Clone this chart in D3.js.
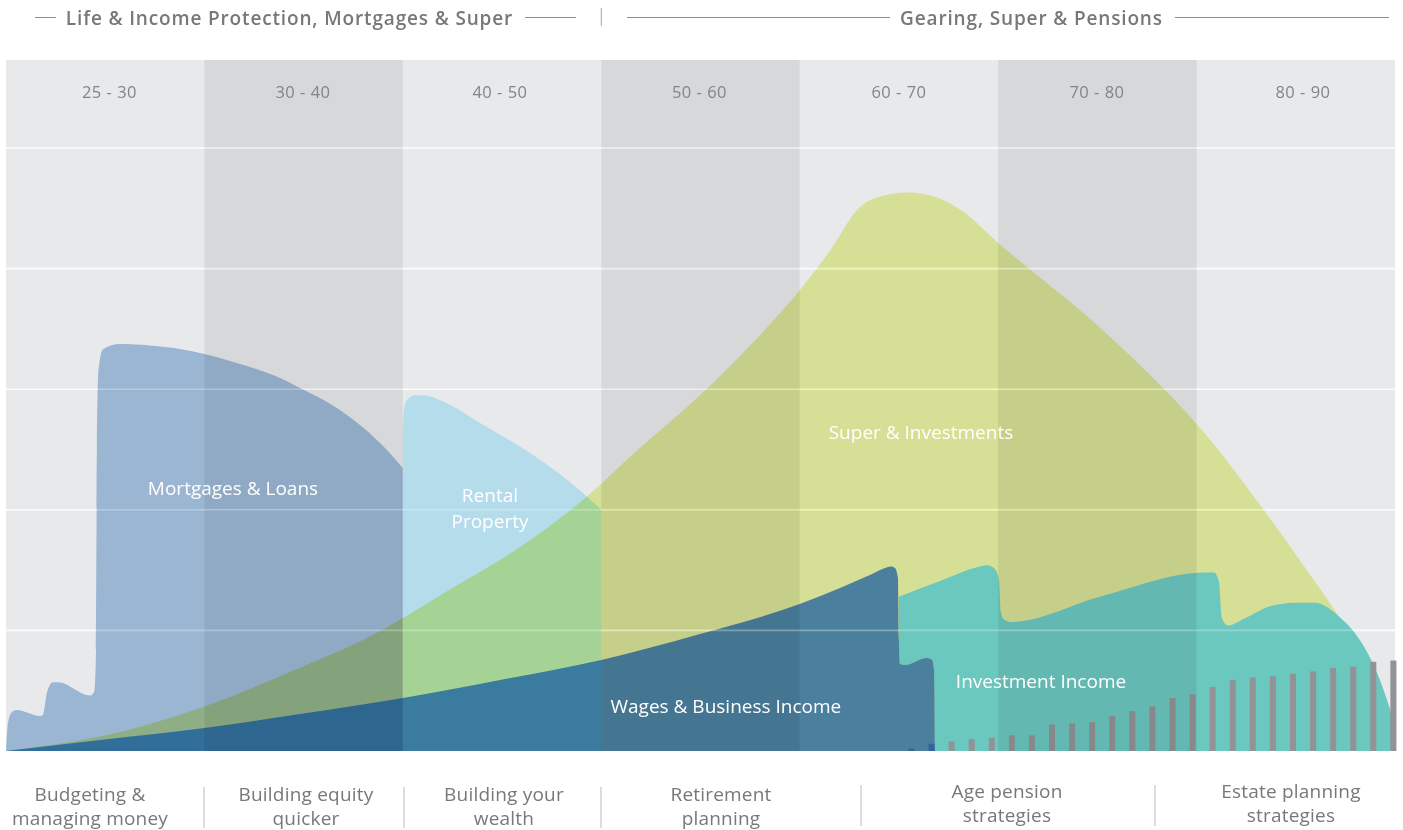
<!DOCTYPE html>
<html><head><meta charset="utf-8">
<script src="https://cdn.jsdelivr.net/npm/d3@7"></script>
<style>
body{margin:0;background:#fff;}
svg{display:block;font-family:"Open Sans",sans-serif;}
</style>
</head><body>
<svg id="chart" width="1403" height="830"></svg>
<script>
// ---------------- DATA ----------------
const columnAges   = [25, 30, 40, 50, 60, 70, 80, 90];
const columnLabels = ["25 - 30", "30 - 40", "40 - 50", "50 - 60", "60 - 70", "70 - 80", "80 - 90"];
const gridValues   = [100, 200, 300, 400, 500];
const groupTitles  = ["Life & Income Protection, Mortgages & Super", "Gearing, Super & Pensions"];
const phaseLines1  = ["Budgeting &", "Building equity", "Building your", "Retirement", "Age pension", "Estate planning"];
const phaseLines2  = ["managing money", "quicker", "wealth", "planning", "strategies", "strategies"];

const mortgageAges   = [25, 25.05, 25.14, 25.27, 25.86, 25.93, 26.03, 26.18, 26.31, 27.12, 27.22, 27.27, 27.29, 27.33, 27.44, 27.87, 28.63, 29.38, 30, 31.29, 32.3, 33.81, 34.92, 35.82, 36.83, 37.84, 38.85, 40];
const mortgageValues = [0, 23, 32, 34, 29, 30, 48, 57, 57, 46, 49, 84, 250, 316, 333, 337.5, 336.3, 333.4, 329.2, 323.4, 318.4, 309.3, 300.2, 292.7, 282.8, 270.3, 255.4, 234.7];

const rentalAges   = [40, 40.05, 40.26, 40.61, 40.97, 42.38, 43.89, 46.41, 48.93, 50];
const rentalValues = [266, 283, 292, 295, 295, 287, 272, 247, 216, 200];

const superAges   = [25, 27.37, 30, 34.82, 37.99, 42.38, 46.26, 49.28, 51.45, 54.97, 58, 60, 61.53, 63.04, 63.89, 65.46, 66.92, 68.08, 70.09, 75.13, 77.65, 80.17, 83.2, 85.21, 87.23, 88.74, 90];
const superValues = [0, 12, 37, 69, 92, 134, 173, 211, 244, 295, 345, 382, 415, 451, 459, 463, 459, 449, 420, 351, 312, 268, 204, 158, 110, 69, 9];

const investAges   = [65, 67.07, 69.09, 69.44, 69.84, 70.04, 70.14, 70.29, 70.65, 75.13, 80.42, 80.88, 81.13, 81.28, 81.58, 82.44, 83.7, 84.96, 85.97, 87.22, 88.23, 89.14, 90];
const investValues = [128, 141, 153, 154, 151, 142, 115, 109, 107, 128, 148, 148, 140, 110, 104, 110, 120, 123, 123, 111, 92, 63, 22];

const wageAges   = [25, 27.37, 30, 34.82, 40, 44.9, 50, 54.97, 60, 62.03, 63.54, 64.3, 64.6, 64.8, 64.95, 65.0, 65.05, 65.3, 66.41, 66.67, 66.77, 66.82];
const wageValues = [0, 9.1, 19.1, 30.7, 44, 58.9, 75.5, 97, 121.9, 135.2, 145.9, 151.7, 152.9, 151.7, 143.4, 92, 72.1, 71.3, 77.1, 75.5, 67.2, 0];

const barAges   = [66, 67, 68, 69, 70, 71, 72, 73, 74, 75, 76, 77, 78, 79, 80, 81, 82, 83, 84, 85, 86, 87, 88, 89, 90];
const barValues = [2, 6, 8, 10, 11, 13, 13, 22, 23, 24, 29, 33, 37, 44, 47, 53, 59, 61, 62, 64, 66, 69, 70, 74, 75];

const seriesNames = ["Mortgages & Loans", "Rental", "Property", "Super & Investments", "Wages & Business Income", "Investment Income"];

// ---------------- LAYOUT ----------------
const plotL = 6, plotR = 1395, topValue = 573;
const svg = d3.select("#chart");

const x = d3.scaleLinear()
  .domain(columnAges)
  .range(columnAges.map((d, i) => plotL + i * (plotR - plotL) / (columnAges.length - 1)));
const y = d3.scaleLinear().domain([0, 500]).range([751, 148]);

const colors = {
  bgLight: "#e8e9eb",
  mortgage: "#9bb6d3",
  rental: "#b4dcea",
  superC: "#eaf5a2",
  invest: "#6bc8bf",
  bars: "#929397",
  wages: "rgb(0,76,163)",
  text: "#77787b"
};

const areaGen = (ages, vals) => d3.area()
  .x((d, i) => x(ages[i]))
  .y0(y(0))
  .y1((d, i) => y(vals[i]))
  .curve(d3.curveMonotoneX)(vals);

// mask: investment income does not show under the wage area
const defs = svg.append("defs");
const mask = defs.append("mask").attr("id", "noWage").attr("maskUnits", "userSpaceOnUse")
  .attr("x", 0).attr("y", 0).attr("width", 1403).attr("height", 830);
mask.append("rect").attr("width", 1403).attr("height", 830).attr("fill", "#fff");
mask.append("path").attr("d", areaGen(wageAges, wageValues)).attr("fill", "#000");

// background
svg.append("rect")
  .attr("x", x(25)).attr("y", y(topValue))
  .attr("width", x(90) - x(25)).attr("height", y(0) - y(topValue))
  .attr("fill", colors.bgLight);

// gridlines under shapes
svg.append("g").selectAll("line").data(gridValues).join("line")
  .attr("x1", x(25)).attr("x2", x(90))
  .attr("y1", d => y(d)).attr("y2", d => y(d))
  .attr("stroke", "#fbfbfb").attr("stroke-width", 1.6);

svg.append("path").attr("d", areaGen(mortgageAges, mortgageValues)).attr("fill", colors.mortgage);
svg.append("path").attr("d", areaGen(rentalAges, rentalValues)).attr("fill", colors.rental);
svg.append("path").attr("d", areaGen(superAges, superValues)).attr("fill", colors.superC)
  .style("mix-blend-mode", "multiply");
svg.append("path").attr("d", areaGen(investAges, investValues)).attr("fill", colors.invest)
  .attr("mask", "url(#noWage)");

// bars
const xb = d3.scaleBand().domain(barAges).range([x(65.48), x(90.07)]).paddingInner(0.7).paddingOuter(0);
svg.append("g").selectAll("rect").data(barValues).join("rect")
  .attr("x", (d, i) => xb(barAges[i]))
  .attr("width", xb.bandwidth())
  .attr("y", d => y(d))
  .attr("height", d => y(0) - y(d))
  .attr("fill", colors.bars);

svg.append("path").attr("d", areaGen(wageAges, wageValues)).attr("fill", colors.wages).attr("fill-opacity", 0.65);

// darker column bands (overlay)
const bandCols = [1, 3, 5];
svg.append("g").selectAll("rect").data(bandCols).join("rect")
  .attr("x", i => x(columnAges[i]))
  .attr("width", i => x(columnAges[i + 1]) - x(columnAges[i]))
  .attr("y", y(topValue)).attr("height", y(0) - y(topValue))
  .attr("fill", "#000").attr("fill-opacity", 0.07);

// gridlines over shapes
svg.append("g").selectAll("line").data(gridValues).join("line")
  .attr("x1", x(25)).attr("x2", x(90))
  .attr("y1", d => y(d)).attr("y2", d => y(d))
  .attr("stroke", "#fff").attr("stroke-width", 1.6).attr("stroke-opacity", 0.28);

// column age labels
const columnLabelX = [109.5, 303, 500, 699.5, 899, 1097, 1303];
svg.append("g").selectAll("text").data(columnLabels).join("text")
  .attr("x", (d, i) => columnLabelX[i])
  .attr("y", 91)
  .attr("text-anchor", "middle").attr("dominant-baseline", "central")
  .attr("font-size", 16.5).attr("letter-spacing", 0.5).attr("fill", "#838487")
  .text(d => d);

// series labels
const seriesLabelPos = [[31.44, 218], [44.39, 212], [44.39, 191], [66.11, 264.5], [56.28, 37.3], [72.16, 58]];
svg.append("g").selectAll("text").data(seriesNames).join("text")
  .attr("x", (d, i) => x(seriesLabelPos[i][0]))
  .attr("y", (d, i) => y(seriesLabelPos[i][1]))
  .attr("text-anchor", "middle").attr("dominant-baseline", "central")
  .attr("font-size", 19).attr("fill", "#fff")
  .text(d => d);

// group titles with lines
const groupSpans = [[35, 576], [627, 1389]];
const groupCenters = [289.5, 1031.5];
const titleG = svg.append("g");
groupTitles.forEach((t, i) => {
  const [a, b] = groupSpans[i];
  const tx = titleG.append("text")
    .attr("x", groupCenters[i]).attr("y", 18)
    .attr("text-anchor", "middle").attr("dominant-baseline", "central")
    .attr("font-size", 19).attr("font-weight", 600).attr("fill", colors.text)
    .attr("letter-spacing", 0.85)
    .text(t);
  const bb = tx.node().getBBox();
  titleG.append("line").attr("x1", a).attr("x2", bb.x - 10).attr("y1", 17.5).attr("y2", 17.5)
    .attr("stroke", "#8d8e91").attr("stroke-width", 1);
  titleG.append("line").attr("x1", bb.x + bb.width + 12).attr("x2", b).attr("y1", 17.5).attr("y2", 17.5)
    .attr("stroke", "#8d8e91").attr("stroke-width", 1);
});
titleG.append("line").attr("x1", x(50)).attr("x2", x(50)).attr("y1", 8).attr("y2", 26)
  .attr("stroke", "#a5a6a8").attr("stroke-width", 1);

// bottom phase labels
const phaseCenters = [90, 306, 504, 721, 1007, 1291];
const phaseTops = [801, 801, 801, 801, 798, 798];
const phaseDividers = [204, 404, 601, 861, 1155];
const phG = svg.append("g");
phaseLines1.forEach((t, i) => {
  const txt = phG.append("text")
    .attr("x", phaseCenters[i]).attr("y", phaseTops[i])
    .attr("text-anchor", "middle").attr("font-size", 19).attr("letter-spacing", 0.2)
    .attr("fill", colors.text);
  txt.append("tspan").attr("x", phaseCenters[i]).text(t);
  txt.append("tspan").attr("x", phaseCenters[i]).attr("dy", 24).text(phaseLines2[i]);
});
phG.selectAll("line").data(phaseDividers).join("line")
  .attr("x1", d => d).attr("x2", d => d)
  .attr("y1", (d, i) => i < 3 ? 787 : 785).attr("y2", (d, i) => i < 3 ? 828 : 826)
  .attr("stroke", "#b9babc").attr("stroke-width", 1);
</script>
</body></html>
